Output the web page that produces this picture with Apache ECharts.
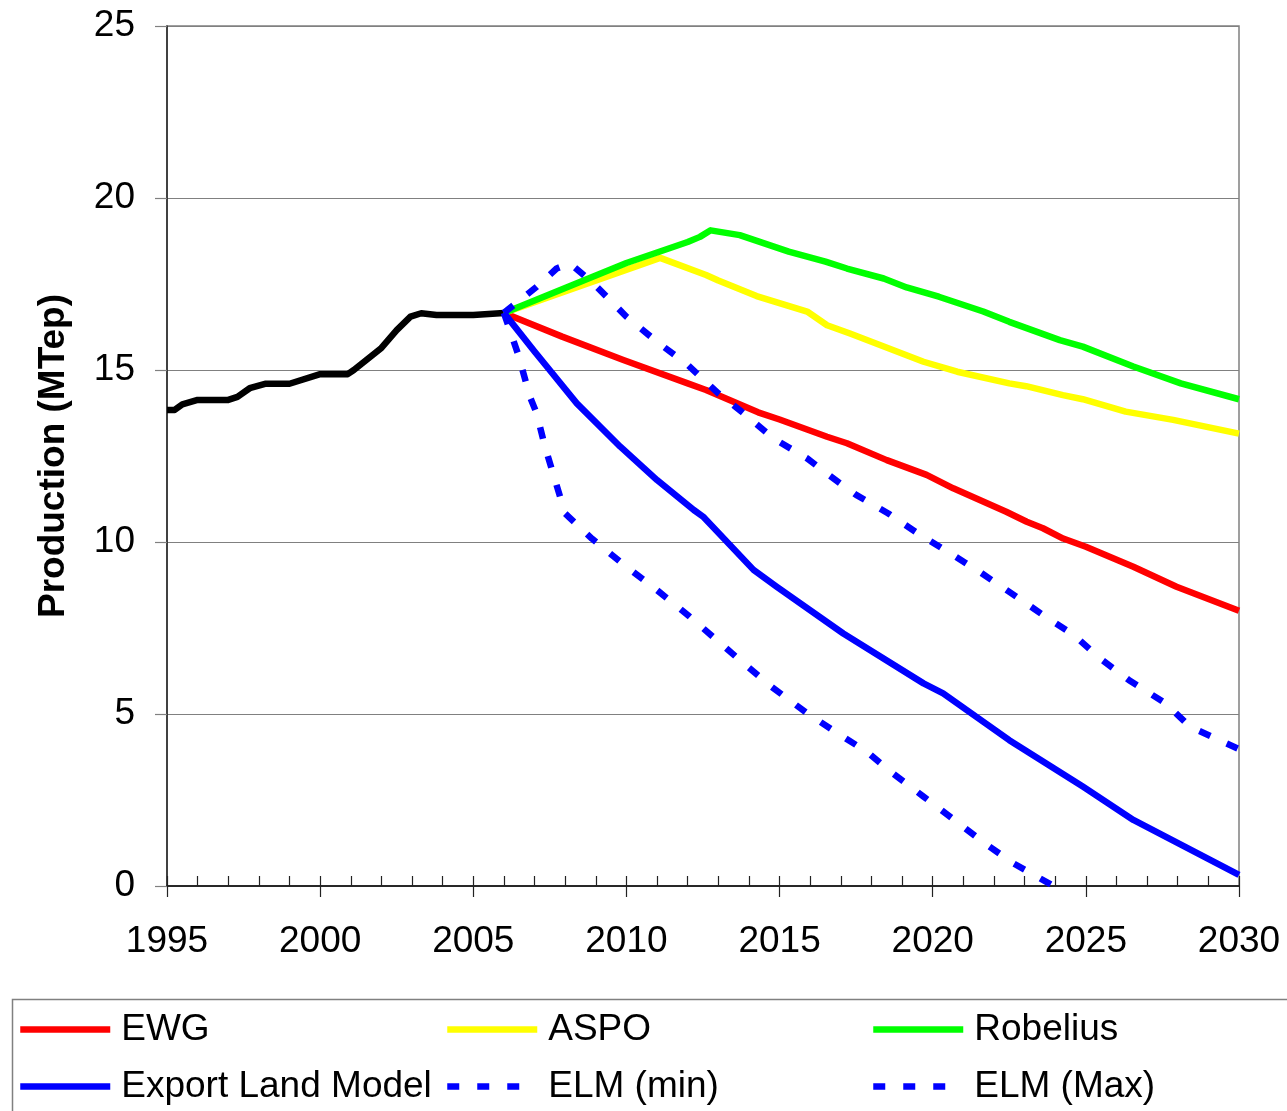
<!DOCTYPE html>
<html>
<head>
<meta charset="utf-8">
<script src="https://cdn.jsdelivr.net/npm/echarts@6/dist/echarts.min.js"></script>
<style>
html,body{margin:0;padding:0;background:#fff;}
#chart{width:1287px;height:1111px;}
</style>
</head>
<body>
<div id="chart"></div>
<script>
// Historical production
var histYears = [1995, 1995.25, 1995.5, 1996, 1997, 1997.3, 1997.7, 1998.2, 1999, 2000, 2000.9, 2001.1, 2002, 2002.5, 2002.95, 2003.3, 2003.8, 2005, 2006];
var histVals  = [13.84, 13.84, 14.0, 14.13, 14.13, 14.22, 14.47, 14.6, 14.6, 14.88, 14.88, 15.0, 15.64, 16.16, 16.55, 16.65, 16.6, 16.6, 16.66];

// EWG
var ewgYears = [2006, 2007.9, 2009.9, 2012, 2012.6, 2014.3, 2015, 2016.55, 2017.2, 2018.5, 2019.8, 2020.67, 2022.4, 2023.07, 2023.6, 2024.26, 2025, 2026.55, 2027.96, 2030];
var ewgVals  = [16.66, 15.97, 15.29, 14.61, 14.42, 13.77, 13.56, 13.06, 12.87, 12.38, 11.95, 11.56, 10.88, 10.59, 10.4, 10.1, 9.86, 9.28, 8.7, 8.0];

// ASPO
var aspoYears = [2006, 2011.1, 2012.6, 2013, 2014.25, 2015.9, 2016.55, 2017.3, 2019.7, 2020.8, 2022.5, 2023.05, 2024.25, 2024.9, 2026.3, 2027.85, 2030];
var aspoVals  = [16.66, 18.26, 17.76, 17.6, 17.15, 16.7, 16.3, 16.06, 15.24, 14.95, 14.61, 14.53, 14.27, 14.15, 13.79, 13.55, 13.15];

// Robelius
var robYears = [2006, 2010, 2012, 2012.4, 2012.75, 2013.7, 2015.3, 2016.5, 2017.2, 2018.4, 2019.15, 2020.2, 2021.65, 2022.5, 2024.15, 2024.9, 2026.55, 2028.1, 2030];
var robVals  = [16.66, 18.11, 18.72, 18.87, 19.06, 18.92, 18.44, 18.15, 17.95, 17.66, 17.4, 17.13, 16.7, 16.4, 15.87, 15.68, 15.1, 14.61, 14.15];

// Export Land Model
var elmYears = [2006, 2007, 2007.4, 2008.38, 2009.8, 2011, 2012.2, 2012.5, 2014.15, 2014.9, 2017.08, 2019.7, 2020.34, 2022.5, 2024.9, 2026.55, 2030];
var elmVals  = [16.66, 15.54, 15.1, 14.03, 12.77, 11.8, 10.93, 10.74, 9.19, 8.7, 7.34, 5.89, 5.6, 4.24, 2.89, 1.92, 0.32];

// ELM (min)
var elmMinYears = [2006, 2006.47, 2006.85, 2007.07, 2007.34, 2007.67, 2008, 2008.87, 2010, 2011, 2012, 2012.83, 2013.7, 2014.74, 2015.9, 2016.9, 2017.85, 2018.7, 2019.7, 2020.78, 2021.7, 2022.63, 2023.95];
var elmMinVals  = [16.66, 15.44, 14.22, 13.74, 12.77, 11.8, 10.83, 10.1, 9.28, 8.6, 7.88, 7.24, 6.57, 5.79, 5.02, 4.44, 3.9, 3.27, 2.6, 1.87, 1.24, 0.66, 0];

// ELM (Max)
var elmMaxYears = [2006, 2007.07, 2007.72, 2008.15, 2008.92, 2010, 2011, 2012, 2013, 2013.76, 2014.6, 2014.8, 2015.9, 2016.6, 2017.5, 2018.55, 2019.6, 2020.67, 2021.6, 2022.5, 2023.6, 2024.6, 2025.46, 2026.4, 2027.6, 2028.4, 2030];
var elmMaxVals  = [16.66, 17.42, 17.95, 18.1, 17.52, 16.55, 15.82, 15.15, 14.32, 13.79, 13.16, 13.01, 12.43, 11.95, 11.37, 10.83, 10.2, 9.62, 9.09, 8.55, 7.88, 7.3, 6.62, 5.99, 5.31, 4.63, 3.98];

var xTicks = [1995, 2000, 2005, 2010, 2015, 2020, 2025, 2030];
var yTicks = [0, 5, 10, 15, 20, 25];
var legendNames = ['EWG', 'ASPO', 'Robelius', 'Export Land Model', 'ELM (min)', 'ELM (Max)'];

function zip(xs, ys) { return xs.map(function (x, i) { return [x, ys[i]]; }); }

var FONT = 'Liberation Sans, Arial, sans-serif';
var W = 6.5;
var DASH = [12, 18];

function lineSeries(name, xs, ys, color, dashed) {
  return {
    name: name,
    type: 'line',
    xAxisIndex: 0,
    data: zip(xs, ys),
    showSymbol: false,
    symbol: 'none',
    smooth: false,
    animation: false,
    lineStyle: { color: color, width: W, type: dashed ? DASH : 'solid', cap: 'butt', join: 'round' },
    itemStyle: { color: color }
  };
}

var legendLefts = [12, 439, 865];
var legendTops = [1006, 1063];
var legends = legendNames.map(function (n, i) {
  return {
    data: [n],
    left: legendLefts[i % 3], top: legendTops[Math.floor(i / 3)],
    orient: 'horizontal',
    itemWidth: 90, itemHeight: 14,
    itemStyle: { opacity: 0 },
    lineStyle: { width: 6.5 },
    textStyle: { fontSize: 37, fontFamily: FONT, color: '#000', padding: [0, 0, 0, 6] },
    selectedMode: false
  };
});

var chart = echarts.init(document.getElementById('chart'), null, { renderer: 'canvas' });
chart.setOption({
  backgroundColor: '#fff',
  animation: false,
  grid: { left: 167, right: 48, top: 26, bottom: 225, show: true, borderColor: '#808080', borderWidth: 1.5, backgroundColor: 'transparent' },
  xAxis: [{
    type: 'value', min: xTicks[0], max: xTicks[xTicks.length - 1], interval: 5,
    position: 'bottom',
    axisLine: { show: true, onZero: false, lineStyle: { color: '#222', width: 1.5 } },
    axisTick: { show: true, inside: false, length: 11, lineStyle: { color: '#222', width: 1.2 } },
    axisLabel: { show: true, margin: 37, fontSize: 37, fontFamily: FONT, color: '#000', formatter: function (v) { return String(v); } },
    splitLine: { show: false }
  }, {
    type: 'value', min: xTicks[0], max: xTicks[xTicks.length - 1], interval: 1,
    position: 'bottom',
    axisLine: { show: true, onZero: false, lineStyle: { color: '#222', width: 1.5 } },
    axisTick: { show: true, inside: true, length: 10, lineStyle: { color: '#222', width: 1.2 } },
    axisLabel: { show: false },
    splitLine: { show: false }
  }],
  yAxis: {
    type: 'value', min: yTicks[0], max: yTicks[yTicks.length - 1], interval: 5,
    name: 'Production (MTep)', nameLocation: 'middle', nameGap: 95, nameRotate: 90,
    nameTextStyle: { fontSize: 37, fontWeight: 'bold', fontFamily: FONT, color: '#000' },
    axisLine: { show: true, lineStyle: { color: '#222', width: 1.5 } },
    axisTick: { show: true, inside: false, length: 12, lineStyle: { color: '#808080', width: 1.2 } },
    axisLabel: { margin: 32, fontSize: 37, fontFamily: FONT, color: '#000' },
    splitLine: { show: true, lineStyle: { color: '#808080', width: 1.2 } }
  },
  legend: legends,
  graphic: [{
    type: 'rect', left: 10, top: 997, silent: true,
    shape: { width: 1300, height: 140 },
    style: { fill: 'none', stroke: '#808080', lineWidth: 1.5 }
  }],
  series: [
    lineSeries('Historique', histYears, histVals, '#000000', false),
    lineSeries('EWG', ewgYears, ewgVals, '#FF0000', false),
    lineSeries('ASPO', aspoYears, aspoVals, '#FFFF00', false),
    lineSeries('Robelius', robYears, robVals, '#00FF00', false),
    lineSeries('Export Land Model', elmYears, elmVals, '#0000FF', false),
    lineSeries('ELM (min)', elmMinYears, elmMinVals, '#0000FF', true),
    lineSeries('ELM (Max)', elmMaxYears, elmMaxVals, '#0000FF', true)
  ]
});
</script>
</body>
</html>
